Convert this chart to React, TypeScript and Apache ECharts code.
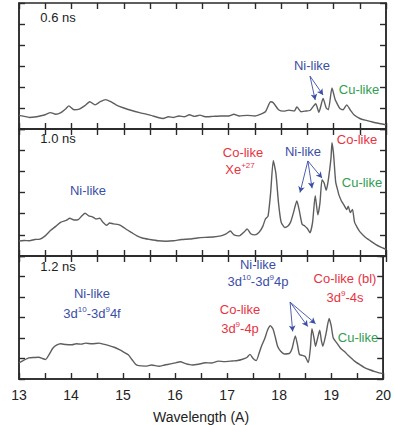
import React, { useEffect, useRef } from "react";
import * as echarts from "echarts";

const xTicks = [13, 14, 15, 16, 17, 18, 19, 20];
const panelLabels = ["0.6 ns", "1.0 ns", "1.2 ns"];

const spec06: [number, number][] = [
  [13.0,0.65],[13.1,0.6],[13.2,0.55],[13.3,0.57],[13.4,0.62],[13.5,0.68],[13.6,0.78],[13.7,0.7],[13.8,0.78],[13.9,0.98],[13.95,1.1],[14.05,0.92],[14.15,0.95],[14.25,1.1],[14.35,1.3],[14.45,1.15],[14.55,1.3],[14.65,1.4],[14.75,1.3],[14.85,1.15],[15.0,1.0],[15.15,0.88],[15.3,0.78],[15.5,0.66],[15.65,0.55],[15.75,0.5],[15.85,0.58],[15.95,0.55],[16.05,0.62],[16.15,0.58],[16.25,0.68],[16.35,0.6],[16.45,0.66],[16.55,0.58],[16.7,0.6],[16.85,0.62],[17.0,0.62],[17.1,0.7],[17.2,0.62],[17.35,0.65],[17.5,0.62],[17.6,0.7],[17.7,0.82],[17.8,1.3],[17.85,1.25],[17.95,0.92],[18.05,0.85],[18.15,0.9],[18.25,0.85],[18.3,1.05],[18.38,0.82],[18.45,0.85],[18.55,0.88],[18.62,1.1],[18.66,1.2],[18.72,0.8],[18.8,1.45],[18.86,1.0],[18.9,0.92],[18.97,1.95],[19.03,1.4],[19.08,1.15],[19.12,0.98],[19.18,0.92],[19.25,1.15],[19.32,0.9],[19.4,0.65],[19.5,0.5],[19.6,0.42],[19.7,0.36],[19.8,0.3],[19.9,0.25],[20.0,0.2]
];

const spec10: [number, number][] = [
  [13.0,0.71],[13.1,0.73],[13.2,0.72],[13.3,0.78],[13.4,0.8],[13.5,0.95],[13.6,1.2],[13.7,1.4],[13.8,1.6],[13.9,1.68],[13.97,1.78],[14.05,1.7],[14.13,1.72],[14.2,1.9],[14.26,2.02],[14.33,1.9],[14.4,1.85],[14.47,1.75],[14.54,1.78],[14.6,1.6],[14.67,1.45],[14.73,1.56],[14.8,1.52],[14.9,1.48],[14.98,1.38],[15.05,1.25],[15.15,1.1],[15.25,0.95],[15.35,0.85],[15.5,0.78],[15.65,0.72],[15.8,0.7],[15.95,0.72],[16.1,0.78],[16.25,0.8],[16.4,0.85],[16.55,0.88],[16.7,0.9],[16.85,0.95],[16.95,1.05],[17.03,1.18],[17.1,1.0],[17.2,0.95],[17.3,1.15],[17.35,1.28],[17.42,1.05],[17.5,1.0],[17.58,1.12],[17.65,1.4],[17.7,1.75],[17.75,1.88],[17.8,3.0],[17.85,4.5],[17.9,3.9],[17.95,2.5],[18.0,1.6],[18.07,1.35],[18.13,1.42],[18.18,1.6],[18.23,2.0],[18.3,2.6],[18.35,2.1],[18.4,1.5],[18.45,1.42],[18.5,1.3],[18.55,1.1],[18.6,1.6],[18.65,2.85],[18.7,1.95],[18.74,2.5],[18.78,3.6],[18.82,3.45],[18.86,3.1],[18.9,3.6],[18.95,4.6],[18.97,5.35],[19.0,4.8],[19.04,3.5],[19.08,3.1],[19.1,2.9],[19.15,2.6],[19.2,2.4],[19.25,2.2],[19.28,2.35],[19.32,2.05],[19.36,2.2],[19.4,1.6],[19.45,1.35],[19.5,1.15],[19.6,0.9],[19.7,0.72],[19.8,0.55],[19.9,0.42],[20.0,0.32]
];

const spec12: [number, number][] = [
  [13.0,0.79],[13.08,0.9],[13.19,1.03],[13.3,1.05],[13.38,1.06],[13.45,1.0],[13.51,0.95],[13.58,1.2],[13.65,1.5],[13.72,1.65],[13.8,1.72],[13.9,1.68],[14.02,1.67],[14.1,1.72],[14.2,1.7],[14.28,1.75],[14.4,1.72],[14.54,1.75],[14.62,1.7],[14.73,1.63],[14.83,1.55],[14.93,1.43],[15.02,1.3],[15.1,1.18],[15.17,0.95],[15.24,0.72],[15.3,0.65],[15.43,0.63],[15.55,0.68],[15.69,0.62],[15.8,0.68],[15.94,0.75],[16.02,0.8],[16.1,0.84],[16.2,0.75],[16.33,0.68],[16.45,0.72],[16.58,0.79],[16.7,0.78],[16.83,0.87],[16.95,0.85],[17.1,0.88],[17.2,0.9],[17.28,0.95],[17.38,1.05],[17.44,1.2],[17.5,1.0],[17.56,0.9],[17.62,1.3],[17.66,1.6],[17.72,1.95],[17.78,2.4],[17.83,2.6],[17.88,2.45],[17.93,2.0],[17.97,1.6],[18.03,1.35],[18.1,1.22],[18.2,1.25],[18.25,1.5],[18.31,2.1],[18.35,1.7],[18.39,1.2],[18.45,1.15],[18.5,1.1],[18.56,0.8],[18.6,1.5],[18.63,2.45],[18.67,2.0],[18.7,1.6],[18.74,2.0],[18.78,2.38],[18.81,1.9],[18.84,1.6],[18.9,2.2],[18.96,2.95],[19.0,2.6],[19.04,2.0],[19.11,1.75],[19.18,1.5],[19.25,1.35],[19.33,1.15],[19.45,0.87],[19.55,0.7],[19.64,0.56],[19.74,0.45],[19.84,0.36],[19.92,0.3],[20.0,0.25]
];

// arrows: [fromX, fromY, toX, toY] in data coordinates per panel
const arrows06 = [[18.55,2.52,18.65,1.38],[18.55,2.52,18.8,1.62]];
const arrows10 = [[18.51,4.49,18.36,3.0],[18.51,4.49,18.59,3.2],[18.51,4.49,18.78,3.68]];
const arrows12 = [[18.21,3.75,18.26,2.32],[18.21,3.75,18.55,2.56],[18.21,3.75,18.7,2.7]];

const BLUE = "#3b4ea6";
const RED = "#e8333f";
const GREEN = "#2f9e4f";
const FONT = "Liberation Sans, Arial, sans-serif";

export default function App() {
  const ref = useRef<HTMLDivElement>(null);
  useEffect(() => {
    document.body.style.margin = "0";
    if (!ref.current) return;
    const chart = echarts.init(ref.current, null, { renderer: "svg" });
    const tops = [3, 129, 256];
    const heights = [126, 127, 126];
    const specs = [spec06, spec10, spec12];
    const arrowSets = [arrows06, arrows10, arrows12];
    const axisLine = { show: true, onZero: false, lineStyle: { color: "#2a2a2a", width: 1.5 } };
    const grids: any[] = tops.map((t, i) => ({
      left: 19, width: 367, top: t, height: heights[i],
      show: true, borderColor: "#2a2a2a", borderWidth: 1.5, backgroundColor: "transparent",
    }));
    // thin strips along each panel's top edge carrying the top-edge ticks
    tops.forEach((t) => grids.push({ left: 19, width: 367, top: t, height: 6 }));
    const xAxes: any[] = [];
    const yAxes: any[] = [];
    const tickIn = { show: true, inside: true, length: 6, lineStyle: { color: "#2a2a2a", width: 1.4 } };
    tops.forEach((_, i) => {
      const isLast = i === 2;
      xAxes.push({
        type: "value", gridIndex: i, position: "bottom", min: 13, max: 20, interval: 0.5,
        axisLine, splitLine: { show: false },
        axisTick: tickIn,
        axisLabel: {
          show: isLast, margin: 9, fontSize: 14, color: "#222", fontFamily: FONT,
          formatter: (v: number) => (xTicks.includes(v) ? String(v) : ""),
        },
        name: isLast ? "Wavelength (A)" : "", nameLocation: "middle", nameGap: 31,
        nameTextStyle: { fontSize: 14, color: "#222", fontFamily: FONT },
      });
      yAxes.push({
        type: "value", gridIndex: i, position: "left", min: 0, max: 6, interval: 1,
        axisLine, splitLine: { show: false },
        axisTick: tickIn,
        axisLabel: { show: false },
      });
      yAxes.push({
        type: "value", gridIndex: i, position: "right", min: 0, max: 6, interval: 1,
        axisLine, splitLine: { show: false },
        axisTick: tickIn,
        axisLabel: { show: false },
      });
    });
    tops.forEach((_, i) => {
      xAxes.push({
        type: "value", gridIndex: 3 + i, min: 13, max: 20, interval: 0.5,
        axisLine: { show: false }, axisTick: { show: false }, axisLabel: { show: false },
        splitLine: { show: true, lineStyle: { color: "#2a2a2a", width: 1.4 } },
      });
      yAxes.push({
        type: "value", gridIndex: 3 + i, min: 0, max: 1,
        axisLine: { show: false }, axisTick: { show: false }, axisLabel: { show: false },
        splitLine: { show: false },
      });
    });
    const series = specs.map((d, i) => ({
      type: "line", xAxisIndex: i, yAxisIndex: i * 2, data: d,
      showSymbol: false, symbol: "none", smooth: 0.2,
      lineStyle: { color: "#5e5e5e", width: 1.4 },
      markLine: {
        silent: true, symbol: ["none", "arrow"], symbolSize: [5, 6],
        label: { show: false },
        lineStyle: { color: BLUE, width: 0.9, type: "solid" },
        data: arrowSets[i].map((a) => [{ coord: [a[0], a[1]] }, { coord: [a[2], a[3]] }]),
      },
    }));
    const sup = { fontSize: 8, padding: [0, 0, 8, 0], fontFamily: FONT };
    const txt = (text: string, x: number, y: number, fill: string, rich?: any) => ({
      type: "text", x, y,
      style: {
        text, fill, fontSize: 13, fontFamily: FONT, align: "center", verticalAlign: "middle",
        rich: rich ? { ...rich } : undefined,
      },
    });
    const richStyles = (c: string) => ({ sup: { ...sup, fill: c }, n: { fontSize: 13, fill: c, fontFamily: FONT } });
    const graphic = [
      txt(panelLabels[0], 58, 17, "#222"),
      txt(panelLabels[1], 58, 138, "#222"),
      txt(panelLabels[2], 58, 266, "#222"),
      txt("Ni-like", 312, 65, BLUE),
      txt("Cu-like", 359, 89, GREEN),
      txt("Co-like", 243, 152, RED),
      txt("{n|Xe}{sup|+27}", 240, 169, RED, richStyles(RED)),
      txt("Ni-like", 303, 151, BLUE),
      txt("Co-like", 357, 139, RED),
      txt("Cu-like", 362, 182, GREEN),
      txt("Ni-like", 88, 190, BLUE),
      txt("Ni-like", 92, 293, BLUE),
      txt("{n|3d}{sup|10}{n|-3d}{sup|9}{n|4f}", 92, 313, BLUE, richStyles(BLUE)),
      txt("Ni-like", 258, 264, BLUE),
      txt("{n|3d}{sup|10}{n|-3d}{sup|9}{n|4p}", 258, 281, BLUE, richStyles(BLUE)),
      txt("Co-like", 240, 309, RED),
      txt("{n|3d}{sup|9}{n|-4p}", 240, 328, RED, richStyles(RED)),
      txt("Co-like (bl)", 345, 278, RED),
      txt("{n|3d}{sup|9}{n|-4s}", 345, 297, RED, richStyles(RED)),
      txt("Cu-like", 358, 337, GREEN),
    ];
    chart.setOption({
      animation: false,
      backgroundColor: "#fff",
      grid: grids,
      xAxis: xAxes,
      yAxis: yAxes,
      series,
      graphic,
    });
    return () => chart.dispose();
  }, []);
  return <div ref={ref} style={{ width: 394, height: 425 }} />;
}
